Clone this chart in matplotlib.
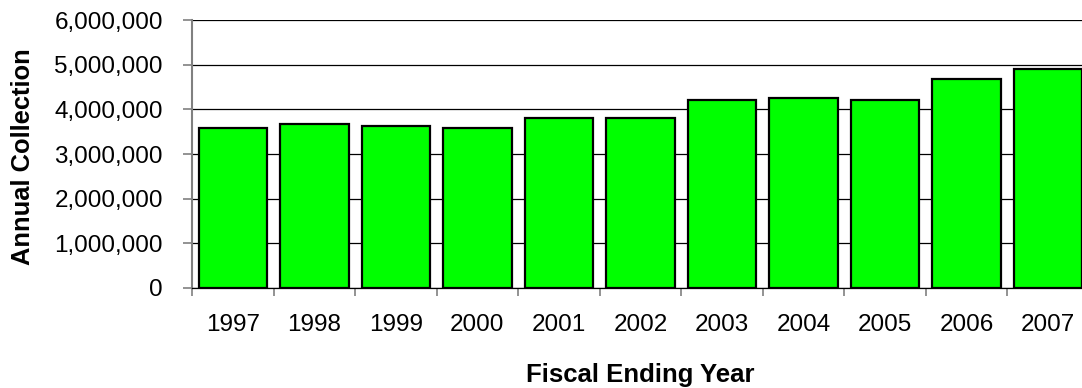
import matplotlib
matplotlib.use("Agg")
import matplotlib.pyplot as plt
from matplotlib.ticker import FuncFormatter, FixedLocator

# Annual collection by fiscal ending year
years = ["1997", "1998", "1999", "2000", "2001", "2002",
         "2003", "2004", "2005", "2006", "2007"]
collection = [3580000, 3670000, 3630000, 3580000, 3800000, 3800000,
              4210000, 4250000, 4210000, 4680000, 4910000]

plt.rcParams["font.family"] = ["Liberation Sans", "DejaVu Sans"]

fig = plt.figure(figsize=(10.82, 3.88), dpi=100)
# axes runs slightly past the right edge of the figure
ax = fig.add_axes([192 / 1082, 100 / 388, 897 / 1082, 268 / 388])

x = range(len(years))
ax.bar(x, collection, width=0.84, color="#00FF00", edgecolor="black",
       linewidth=1.6, zorder=3)

ax.set_xlim(-0.5, len(years) - 0.5)
ax.set_ylim(0, 6000000)
ax.set_yticks(range(0, 6000001, 1000000))
ax.yaxis.set_major_formatter(FuncFormatter(lambda v, _: f"{v:,.0f}"))
ax.yaxis.grid(True, color="black", linewidth=0.9)
ax.set_axisbelow(True)

ax.set_xticks(list(x))
ax.set_xticklabels(years)
ax.xaxis.set_minor_locator(FixedLocator([i + 0.5 for i in range(-1, len(years))]))
ax.tick_params(axis="x", which="major", length=0, pad=19, labelsize=17.5)
ax.tick_params(axis="x", which="minor", length=6, color="#808080", width=1.2)
ax.tick_params(axis="y", length=6.5, color="#808080", width=1.2, pad=14.4,
               labelsize=17.5)

for side in ("top", "right"):
    ax.spines[side].set_visible(False)
ax.spines["left"].set_color("#808080")
ax.spines["left"].set_linewidth(1.5)
ax.spines["bottom"].set_color("black")
ax.spines["bottom"].set_linewidth(0.9)

ax.set_xlabel("Fiscal Ending Year", fontsize=18.5, fontweight="bold")
ax.xaxis.set_label_coords(0.5, -0.279)
ax.set_ylabel("Annual Collection", fontsize=18.4, fontweight="bold")
ax.yaxis.set_label_coords(-156.6 / 897, 0.489)

fig.savefig("out.png", dpi=100)
